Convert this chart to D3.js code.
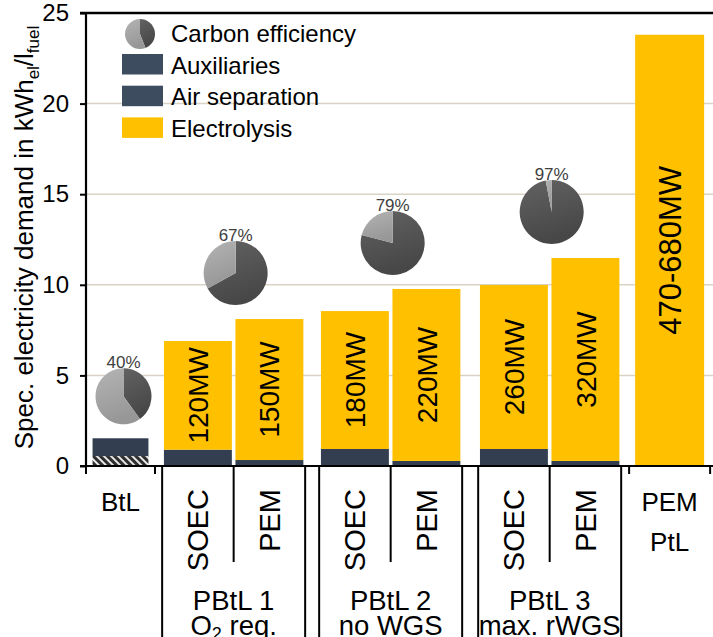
<!DOCTYPE html>
<html>
<head>
<meta charset="utf-8">
<script src="https://cdn.jsdelivr.net/npm/d3@7"></script>
<style>
  html, body { margin: 0; padding: 0; background: #fff; }
  svg { display: block; font-family: "Liberation Sans", Arial, sans-serif; }
</style>
</head>
<body>
<svg id="chart" width="713" height="637"></svg>
<script>
// ---- data ----
const barTech = ["BtL", "SOEC", "PEM", "SOEC", "PEM", "SOEC", "PEM", "PEM"];
const barGroup = [0, 1, 1, 2, 2, 3, 3, 4];
const groupNames = ["BtL", "PBtL 1", "PBtL 2", "PBtL 3", "PtL"];
const groupNotes = ["", "O2 req.", "no WGS", "max. rWGS", ""];
const airSeparation = [0.55, 0, 0, 0, 0, 0, 0, 0];
const auxiliaries   = [0.98, 0.90, 0.33, 0.94, 0.28, 0.94, 0.28, 0];
const electrolysis  = [0, 6.00, 7.78, 7.61, 9.49, 9.05, 11.20, 23.80];
const capacityLabels = ["", "120MW", "150MW", "180MW", "220MW", "260MW", "320MW", "470-680MW"];
const carbonEfficiency = [40, 67, 79, 97, null]; // % per group
const yTicks = [0, 5, 10, 15, 20, 25];

// ---- layout ----
const groupGapBefore = [0, 0.1, 0.196, 0.224, 0.111];   // in slot units
const groupSpan      = [0.965, 2, 2, 2, 1.133];
const groupBarWidth  = [0.81, 0.95, 0.95, 0.95, 0.965];
const totalUnits = groupSpan.reduce((a, b) => a + b, 0) + groupGapBefore.reduce((a, b) => a + b, 0);

const yTop = 13, yBase = 466, xAxis = 86;
const x = d3.scaleLinear().domain([0, totalUnits]).range([xAxis, xAxis + 71.5 * totalUnits]);
const y = d3.scaleLinear().domain([0, 25]).range([yBase, yTop]);

// group extents in slot units
const groupStart = [];
{
  let pos = 0;
  groupSpan.forEach((s, i) => { pos += groupGapBefore[i]; groupStart.push(pos); pos += s; });
}
const groupCount = groupNames.map((_, g) => barGroup.filter(b => b === g).length);
const bars = barTech.map((tech, i) => {
  const g = barGroup[i];
  const k = barGroup.slice(0, i).filter(b => b === g).length;
  const sub = groupSpan[g] / groupCount[g];
  const c = groupStart[g] + sub * (k + 0.5);
  return {
    i, tech, g, c, w: groupBarWidth[g] * (sub > 1 ? 1 : sub),
    air: airSeparation[i], aux: auxiliaries[i], el: electrolysis[i],
    label: capacityLabels[i]
  };
});

const svg = d3.select("#chart");
const defs = svg.append("defs");

const hatch = defs.append("pattern").attr("id", "hatch")
  .attr("patternUnits", "userSpaceOnUse").attr("width", 5).attr("height", 5)
  .attr("patternTransform", "rotate(-45)");
hatch.append("rect").attr("width", 5).attr("height", 5).attr("fill", "#2e2e2e");
hatch.append("rect").attr("width", 2).attr("height", 5).attr("fill", "#e8e8e8");

function grad(id, c1, c2) {
  const g = defs.append("linearGradient").attr("id", id)
    .attr("x1", 0).attr("y1", 0).attr("x2", 0.3).attr("y2", 1);
  g.append("stop").attr("offset", "0%").attr("stop-color", c1);
  g.append("stop").attr("offset", "100%").attr("stop-color", c2);
}
grad("pieDark", "#626262", "#474747");
grad("pieLight", "#b4b4b4", "#979797");

const colAux = "#333f50", colYellow = "#ffc000", colLegendDark = "#3e4c60";

// ---- gridlines ----
svg.append("g").selectAll("line").data(yTicks.filter(t => t > 0 && t < 25)).join("line")
  .attr("x1", xAxis).attr("x2", 713)
  .attr("y1", d => y(d)).attr("y2", d => y(d))
  .attr("stroke", "#d8d3c5").attr("stroke-width", 1.5);

// ---- stacked bars ----
const barG = svg.append("g");
bars.forEach(b => {
  const x0 = x(b.c - b.w / 2), wpx = x(b.w) - x(0);
  let base = 0;
  [[b.air, "url(#hatch)"], [b.aux, colAux], [b.el, colYellow]].forEach(([v, fill]) => {
    if (v > 0) {
      barG.append("rect").attr("x", x0).attr("width", wpx)
        .attr("y", y(base + v)).attr("height", y(base) - y(base + v))
        .attr("fill", fill);
    }
    base += v;
  });
  if (b.label) {
    const mid = b.air + b.aux + b.el / 2;
    barG.append("text")
      .attr("transform", `translate(${x(b.c)},${y(mid)}) rotate(-90)`)
      .attr("text-anchor", "middle").attr("dy", "0.36em")
      .attr("font-size", groupCount[b.g] === 1 ? 31 : 28).attr("fill", "#000").text(b.label);
  }
});

// ---- axes ----
const yAxis = d3.axisLeft(y).tickValues(yTicks).tickSize(6).tickPadding(11).tickFormat(d3.format("d"));
const yg = svg.append("g").attr("transform", `translate(${xAxis},0)`).call(yAxis);
yg.select(".domain").remove();
yg.selectAll(".tick line").attr("stroke", "#000").attr("stroke-width", 2);
yg.selectAll(".tick text").attr("font-size", 24).attr("fill", "#000")
  .attr("font-family", "'Liberation Sans', Arial, sans-serif");
svg.append("line").attr("x1", xAxis).attr("x2", xAxis).attr("y1", y(25) - 1).attr("y2", y(0) + 1)
  .attr("stroke", "#000").attr("stroke-width", 2.2);
svg.append("line").attr("x1", xAxis - 6).attr("x2", 713).attr("y1", y(25)).attr("y2", y(25))
  .attr("stroke", "#000").attr("stroke-width", 2.6);
svg.append("line").attr("x1", xAxis - 6).attr("x2", 713).attr("y1", y(0)).attr("y2", y(0))
  .attr("stroke", "#000").attr("stroke-width", 2.2);

// y axis title
const yt = svg.append("text")
  .attr("transform", `translate(33,${(y(0) + y(25)) / 2 - 2}) rotate(-90)`)
  .attr("text-anchor", "middle").attr("font-size", 26).attr("fill", "#000");
yt.append("tspan").text("Spec. electricity demand in kWh");
yt.append("tspan").attr("font-size", 17).attr("dy", 6).text("el");
yt.append("tspan").attr("dy", -6).text("/l");
yt.append("tspan").attr("font-size", 17).attr("dy", 6).text("fuel");

// ---- category axis frame ----
const catG = svg.append("g").attr("stroke", "#000").attr("stroke-width", 2);
groupNames.forEach((name, g) => {
  const a = x(groupStart[g]), bEnd = x(groupStart[g] + groupSpan[g]);
  if (groupCount[g] === 1) {
    [a, bEnd].forEach(px => catG.append("line").attr("x1", px).attr("x2", px)
      .attr("y1", yBase).attr("y2", yBase + 8));
  } else {
    [a, bEnd].forEach(px => catG.append("line").attr("x1", px).attr("x2", px)
      .attr("y1", yBase).attr("y2", 637));
    const midPx = x(groupStart[g] + groupSpan[g] / 2);
    catG.append("line").attr("x1", midPx).attr("x2", midPx)
      .attr("y1", yBase).attr("y2", 562);
  }
});

// ---- category labels ----
const labG = svg.append("g").attr("fill", "#000");
bars.forEach(b => {
  if (groupCount[b.g] === 1) {
    labG.append("text").attr("x", x(b.c)).attr("y", 511)
      .attr("text-anchor", "middle").attr("font-size", 26).text(b.tech);
  } else {
    labG.append("text")
      .attr("transform", `translate(${x(b.c)},489) rotate(-90)`)
      .attr("text-anchor", "end").attr("dy", "0.36em")
      .attr("font-size", 29).text(b.tech);
  }
});
groupNames.forEach((name, g) => {
  const cx = x(groupStart[g] + groupSpan[g] / 2);
  if (groupCount[g] === 1) {
    if (g > 0) {
      labG.append("text").attr("x", cx).attr("y", 551)
        .attr("text-anchor", "middle").attr("font-size", 26).text(name);
    }
    return;
  }
  labG.append("text").attr("x", cx).attr("y", 610)
    .attr("text-anchor", "middle").attr("font-size", 27.5).text(name);
  const note = labG.append("text").attr("x", cx).attr("y", 635)
    .attr("text-anchor", "middle").attr("font-size", 27.5);
  const m = groupNotes[g].match(/^O2(.*)$/);
  if (m) {
    note.append("tspan").text("O");
    note.append("tspan").attr("font-size", 18).attr("dy", 5).text("2");
    note.append("tspan").attr("dy", -5).text(m[1]);
  } else {
    note.text(groupNotes[g]);
  }
});

// ---- carbon efficiency pies ----
const arc = d3.arc().innerRadius(0);
const pie = d3.pie().sort(null).value(d => d);
function drawPie(parent, cx, cy, r, pct) {
  const pg = parent.append("g").attr("transform", `translate(${cx},${cy})`);
  pg.selectAll("path").data(pie([pct, 100 - pct])).join("path")
    .attr("d", d => arc.outerRadius(r)(d))
    .attr("fill", (d, i) => i === 0 ? "url(#pieDark)" : "url(#pieLight)");
  return pg;
}
const pieG = svg.append("g");
carbonEfficiency.forEach((pct, g) => {
  if (pct == null) return;
  const r = groupCount[g] === 1 ? 28 : 32;
  const top = d3.max(bars.filter(b => b.g === g), b => b.air + b.aux + b.el);
  const cx = x(groupStart[g] + groupSpan[g] / 2) + (groupCount[g] === 1 ? 3 : 2);
  const cy = y(top) - r - 14;
  drawPie(pieG, cx, cy, r, pct);
  pieG.append("text").attr("x", cx).attr("y", cy - r)
    .attr("text-anchor", "middle").attr("font-size", 17).attr("fill", "#404040")
    .text(pct + "%");
});

// ---- legend ----
const lg = svg.append("g");
drawPie(lg, 140, 34, 15, 44);
const legendItems = ["Auxiliaries", "Air separation", "Electrolysis"];
const legendFill = [colLegendDark, colLegendDark, colYellow];
lg.append("text").attr("x", 171).attr("y", 42).attr("font-size", 24).text("Carbon efficiency");
legendItems.forEach((t, i) => {
  const yy = 54 + i * 31.7;
  lg.append("rect").attr("x", 122).attr("y", yy).attr("width", 41).attr("height", 20.5)
    .attr("fill", legendFill[i]);
  lg.append("text").attr("x", 171).attr("y", yy + 19.5).attr("font-size", 24).text(t);
});
</script>
</body>
</html>
